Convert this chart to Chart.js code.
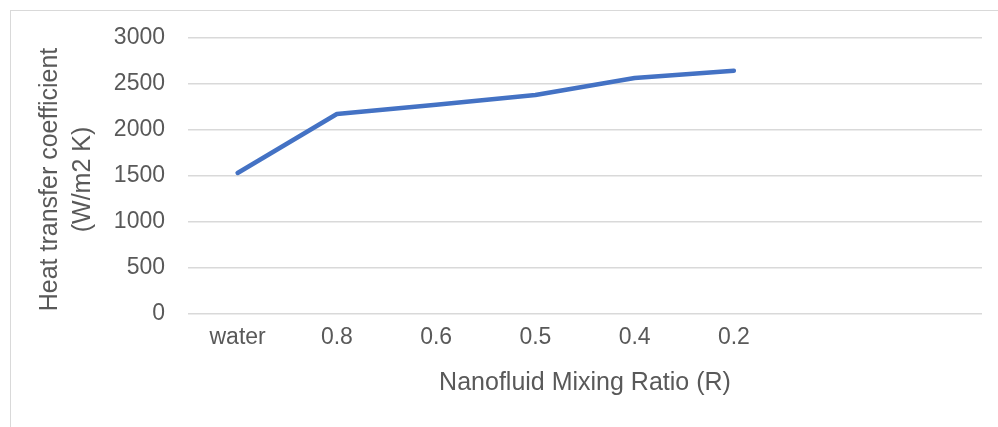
<!DOCTYPE html>
<html>
<head>
<meta charset="utf-8">
<script src="https://cdn.jsdelivr.net/npm/chart.js@4"></script>
<style>
  html, body { margin: 0; padding: 0; background: #ffffff; overflow: hidden; }
  #wrap { position: relative; width: 998px; height: 427px; }
  #frame { position: absolute; left: 10px; top: 10px; width: 1000px; height: 430px; border: 1px solid #d9d9d9; box-sizing: border-box; }
  #c { position: absolute; left: 0; top: 0; }
</style>
</head>
<body>
<div id="wrap">
  <div id="frame"></div>
  <canvas id="c" width="998" height="427"></canvas>
</div>
<script>
const categories = ['water', '0.8', '0.6', '0.5', '0.4', '0.2', '', ''];
const htcValues = [1533, 2174, 2275, 2380, 2565, 2645, null, null];
const yTitle = ['Heat transfer coefficient ', '(W/m2 K) '];
const xTitle = 'Nanofluid Mixing Ratio (R)';

const FONT = "'Liberation Sans', Arial, sans-serif";
const TEXT = '#595959';

new Chart(document.getElementById('c'), {
  type: 'line',
  data: {
    labels: categories,
    datasets: [{
      data: htcValues,
      borderColor: '#4472C4',
      borderWidth: 4.5,
      borderCapStyle: 'round',
      borderJoinStyle: 'round',
      pointRadius: 0,
      pointHoverRadius: 0,
      fill: false,
      tension: 0
    }]
  },
  options: {
    responsive: false,
    animation: false,
    events: [],
    layout: { padding: { left: 20, top: 38, right: 16, bottom: 0 } },
    plugins: { legend: { display: false }, tooltip: { enabled: false } },
    scales: {
      x: {
        offset: true,
        grid: { display: false, drawTicks: false },
        border: { display: false },
        ticks: { color: TEXT, font: { family: FONT, size: 23 }, padding: 10, maxRotation: 0, autoSkip: false },
        title: { display: true, text: xTitle, color: TEXT, font: { family: FONT, size: 25 }, padding: { top: 0, bottom: 29 } },
        afterFit: s => { s.height = 113; }
      },
      y: {
        min: 0, max: 3000,
        ticks: { stepSize: 500, color: TEXT, font: { family: FONT, size: 23 }, padding: 23, callback: v => String(v) },
        grid: { color: '#d9d9d9', lineWidth: 1.5, drawTicks: false },
        border: { display: false },
        title: { display: true, text: yTitle, color: TEXT, font: { family: FONT, size: 25, lineHeight: 1.33 }, padding: { top: 13, bottom: 0 } },
        afterFit: s => { s.width = 168; }
      }
    }
  }
});
</script>
</body>
</html>
